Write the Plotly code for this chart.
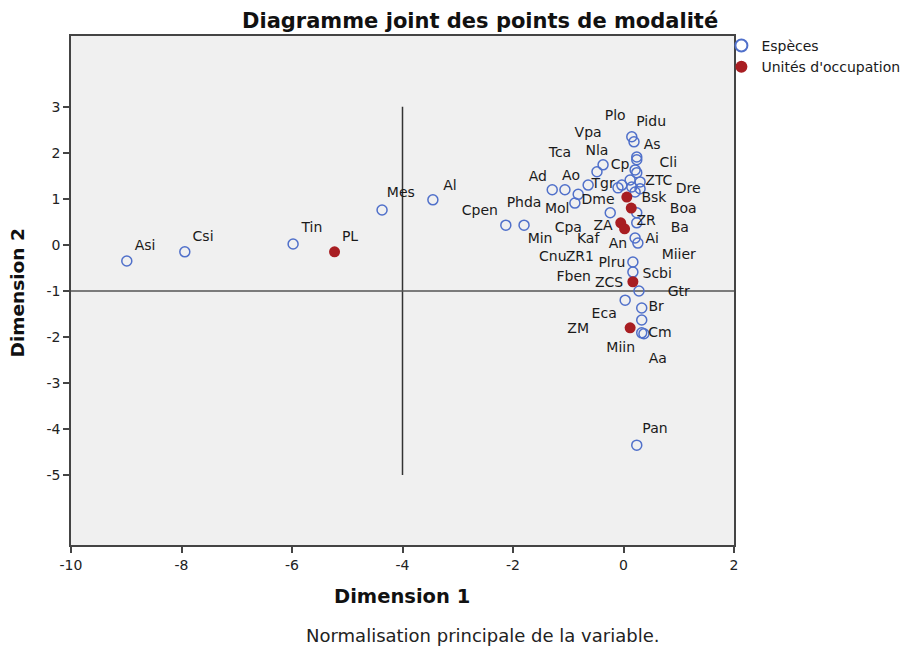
import plotly.graph_objects as go

# ---- Data ----
species_names = ["Asi", "Csi", "Tin", "Mes", "Al", "Cpen", "Phda", "Ad", "Ao", "Tca",
                 "Mol", "Tgr", "Nla", "Vpa", "Cpa", "Pidu", "Plo", "As", "Cli", "Cp",
                 "Dre", "Dme", "Bsk", "Boa", "Min", "Kaf", "Cnu", "Fben", "Miier", "Ba",
                 "Ai", "An", "Plru", "Scbi", "Gtr", "Eca", "Br", "Aa", "Cm", "Miin", "Pan"]
species_x = [-8.99, -7.94, -5.98, -4.37, -3.45, -2.13, -1.80, -1.29, -1.06, -0.82,
             -0.88, -0.64, -0.48, -0.37, -0.24, 0.15, 0.19, 0.24, 0.24, 0.21,
             0.24, 0.12, 0.30, 0.15, -0.03, -0.10, 0.30, 0.21, 0.24, 0.24,
             0.26, 0.21, 0.17, 0.17, 0.28, 0.03, 0.33, 0.33, 0.33, 0.37, 0.24]
species_y = [-0.35, -0.15, 0.02, 0.76, 0.98, 0.43, 0.43, 1.20, 1.20, 1.10,
             0.91, 1.30, 1.59, 1.74, 0.70, 2.35, 2.24, 1.91, 1.85, 1.63,
             1.57, 1.41, 1.37, 1.26, 1.30, 1.24, 1.22, 1.15, 0.48, 0.70,
             0.04, 0.15, -0.37, -0.59, -1.00, -1.20, -1.37, -1.63, -1.91, -1.93, -4.35]
species_label_x = [-8.66, -7.61, -5.64, -4.03, -3.14, -2.60, -1.80, -1.55, -0.95, -1.15,
                   -1.20, -0.37, -0.48, -0.64, -1.00, 0.50, -0.15, 0.52, 0.81, -0.06,
                   1.17, -0.46, 0.55, 1.08, -1.51, -0.64, -1.28, -0.90, 1.00, 1.02,
                   0.52, -0.10, -0.21, 0.61, 1.00, -0.35, 0.59, 0.62, 0.66, -0.05, 0.57]
species_label_y = [-0.04, 0.17, 0.35, 1.11, 1.28, 0.72, 0.89, 1.46, 1.48, 1.98,
                   0.76, 1.31, 2.04, 2.43, 0.35, 2.67, 2.80, 2.15, 1.78, 1.72,
                   1.20, 0.97, 1.00, 0.78, 0.11, 0.11, -0.28, -0.70, -0.24, 0.35,
                   0.11, 0.00, -0.41, -0.65, -1.04, -1.52, -1.35, -2.50, -1.93, -2.24, -4.02]

unit_names = ["PL", "ZTC", "ZR", "ZA", "ZR1", "ZCS", "ZM"]
unit_x = [-5.23, 0.06, 0.14, -0.05, 0.02, 0.17, 0.12]
unit_y = [-0.15, 1.04, 0.80, 0.48, 0.35, -0.80, -1.80]
unit_label_x = [-4.95, 0.64, 0.41, -0.37, -0.79, -0.26, -0.82]
unit_label_y = [0.17, 1.37, 0.50, 0.41, -0.28, -0.83, -1.83]

x_ticks = [-10, -8, -6, -4, -2, 0, 2]
y_ticks = [-5, -4, -3, -2, -1, 0, 1, 2, 3]
vline_x = -4
vline_y = [-5, 3]
hline_y = -1

BLUE = "#5070CA"
RED = "#A81E22"
FONT = "DejaVu Sans, Liberation Sans, Arial, sans-serif"

fig = go.Figure()

# reference lines
fig.add_trace(go.Scatter(x=[vline_x, vline_x], y=vline_y, mode="lines",
                         line=dict(color="#333333", width=1.5),
                         showlegend=False, hoverinfo="skip"))
fig.add_trace(go.Scatter(x=[x_ticks[0], x_ticks[-1]], y=[hline_y, hline_y], mode="lines",
                         line=dict(color="#555555", width=1.5),
                         showlegend=False, hoverinfo="skip"))

fig.add_trace(go.Scatter(x=species_x, y=species_y, mode="markers", name="Espèces",
                         text=species_names,
                         marker=dict(symbol="circle-open", size=10, color=BLUE,
                                     line=dict(width=1.5, color=BLUE))))
fig.add_trace(go.Scatter(x=unit_x, y=unit_y, mode="markers", name="Unités d'occupation",
                         text=unit_names,
                         marker=dict(symbol="circle", size=11, color=RED,
                                     line=dict(width=0))))

# labels
fig.add_trace(go.Scatter(x=species_label_x + unit_label_x, y=species_label_y + unit_label_y,
                         mode="text", text=species_names + unit_names,
                         textposition="middle center",
                         textfont=dict(family=FONT, size=14, color="#1a1a1a"),
                         showlegend=False, hoverinfo="skip"))

fig.update_layout(
    width=905, height=641,
    margin=dict(l=63, r=179, t=28, b=104, autoexpand=False),
    paper_bgcolor="white", plot_bgcolor="#F0F0F0",
    font=dict(family=FONT, size=14, color="#1a1a1a"),
    showlegend=True,
    legend=dict(x=0.981, y=1.012, xanchor="left", yanchor="top",
                bgcolor="rgba(0,0,0,0)", font=dict(size=14, family=FONT),
                itemsizing="constant", tracegroupgap=0, itemwidth=30),
    annotations=[
        dict(text="<b>Diagramme joint des points de modalité</b>", xref="paper", yref="paper",
             x=0.617, y=1.0, yshift=15, xanchor="center", yanchor="middle", showarrow=False,
             font=dict(size=21, family=FONT, color="#111111")),
        dict(text="<b>Dimension 1</b>", xref="paper", yref="paper",
             x=0.4985, y=0, yshift=-51, xanchor="center", yanchor="middle", showarrow=False,
             font=dict(size=19.5, family=FONT, color="#111111")),
        dict(text="<b>Dimension 2</b>", xref="paper", yref="paper", textangle=-90,
             x=-0.08, y=0.5, yshift=-2, xanchor="center", yanchor="middle", showarrow=False,
             font=dict(size=18.5, family=FONT, color="#111111")),
        dict(text="Normalisation principale de la variable.", xref="paper", yref="paper",
             x=0.621, y=0, yshift=-90, xanchor="center", yanchor="middle", showarrow=False,
             font=dict(size=18, family=FONT, color="#222222")),
    ],
)
fig.update_xaxes(range=[-10, 2], tickvals=x_ticks, ticktext=[str(v) for v in x_ticks],
                 automargin=False,
                 showgrid=False, zeroline=False, showline=True, linecolor="#444444", linewidth=1.5,
                 mirror=True, ticks="outside", ticklen=6, tickcolor="#444444", tickwidth=1.5,
                 tickfont=dict(size=14, family=FONT, color="#222222"))
fig.update_yaxes(range=[-6.52, 4.54], tickvals=y_ticks, ticktext=[str(v) for v in y_ticks],
                 automargin=False,
                 showgrid=False, zeroline=False, showline=True, linecolor="#444444", linewidth=1.5,
                 mirror=True, ticks="outside", ticklen=6, tickcolor="#444444", tickwidth=1.5,
                 tickfont=dict(size=14, family=FONT, color="#222222"))

fig.write_html("out.html")
